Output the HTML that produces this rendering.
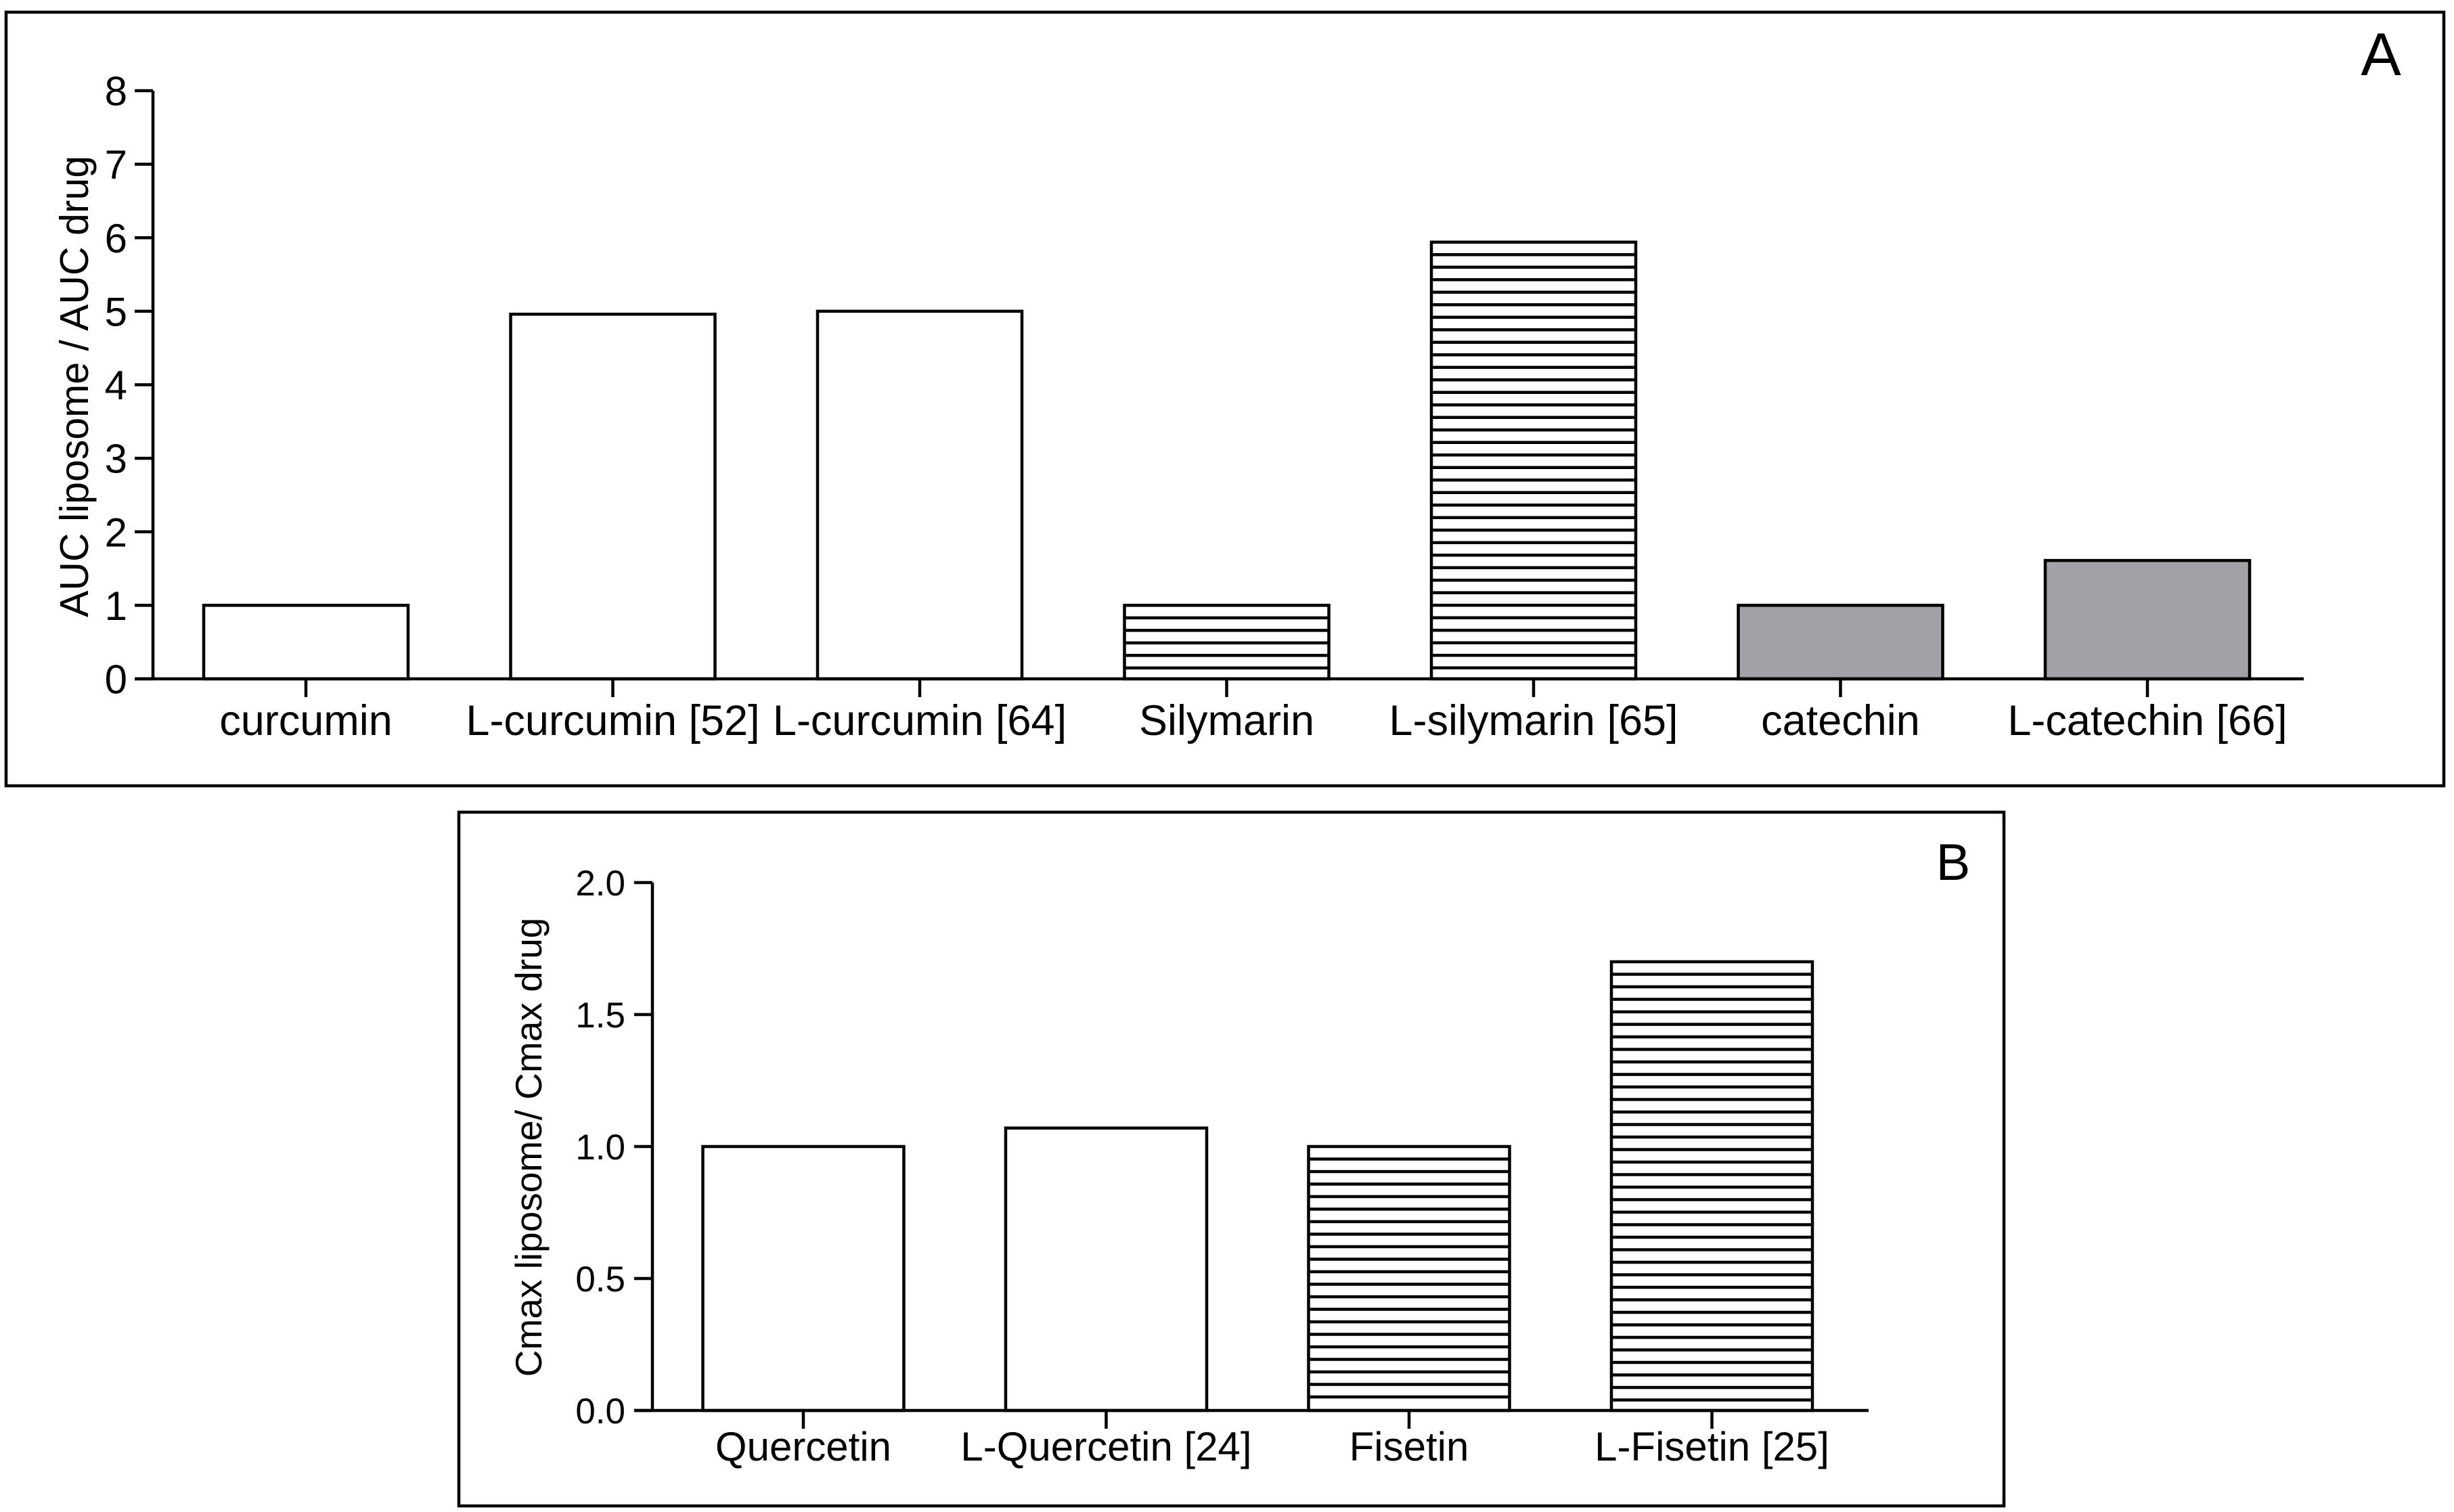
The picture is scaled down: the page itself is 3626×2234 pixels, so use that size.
<!DOCTYPE html>
<html><head><meta charset="utf-8"><style>
html,body{margin:0;padding:0;background:#fff;}
svg{display:block;font-family:"Liberation Sans",Arial,sans-serif;}
</style></head><body>
<svg id="fig" width="3626" height="2234" viewBox="0 0 3626 2234" xmlns="http://www.w3.org/2000/svg">
<rect x="9" y="18" width="3602" height="1143" fill="none" stroke="#000" stroke-width="4.5"/>
<rect x="678" y="1200" width="2283" height="1025" fill="none" stroke="#000" stroke-width="4.5"/>
<text x="3518" y="111" font-size="89" text-anchor="middle">A</text>
<text x="2886" y="1300" font-size="76" text-anchor="middle">B</text>
<text transform="translate(130,571) rotate(-90)" font-size="59" text-anchor="middle">AUC liposome / AUC drug</text>
<text transform="translate(800,1695) rotate(-90)" font-size="55" text-anchor="middle">Cmax liposome/ Cmax drug</text>
<g id="gA"></g>
<g id="gB"></g>
</svg>
<script>
const catsA = ["curcumin","L-curcumin [52]","L-curcumin [64]","Silymarin","L-silymarin [65]","catechin","L-catechin [66]"];
const valsA = [1.0, 4.96, 5.0, 1.0, 5.94, 1.0, 1.61];
const styleA = ["open","open","open","hatch","hatch","gray","gray"];
const ticksA = [0,1,2,3,4,5,6,7,8];
const tickLabelsA = ["0","1","2","3","4","5","6","7","8"];

const catsB = ["Quercetin","L-Quercetin [24]","Fisetin","L-Fisetin [25]"];
const valsB = [1.0, 1.07, 1.0, 1.70];
const styleB = ["open","open","hatch","hatch"];
const ticksB = [0,0.5,1.0,1.5,2.0];
const tickLabelsB = ["0.0","0.5","1.0","1.5","2.0"];

const NS = "http://www.w3.org/2000/svg";
function mk(tag, attrs, parent){
  const e = document.createElementNS(NS, tag);
  for (const k in attrs) e.setAttribute(k, attrs[k]);
  parent.appendChild(e);
  return e;
}
function drawPanel(g, cfg){
  const {cats, vals, styles, ticks, labels, x0, xEnd, y0, yTop, vmax, c0, step, bw, fs, tickFs, labelY, tickLabelX, key} = cfg;
  const ys = v => y0 - (v / vmax) * (y0 - yTop);
  const xs = i => c0 + i * step;
  const sw = 4.5;
  cats.forEach((c, i) => {
    const xc = xs(i), yt = ys(vals[i]);
    const grp = mk("g", {}, g);
    
    
    const fill = styles[i] === "gray" ? "#a2a1a6" : "#fff";
    mk("rect", {x: xc - bw/2, y: yt, width: bw, height: y0 - yt, fill: fill, stroke: "#000", "stroke-width": sw}, grp);
    if (styles[i] === "hatch") {
      for (let y = yt + 18.5; y < y0 - 6; y += 18.5) {
        mk("line", {x1: xc - bw/2, x2: xc + bw/2, y1: y, y2: y, stroke: "#000", "stroke-width": sw}, grp);
      }
    }
    const tk = mk("line", {x1: xc, x2: xc, y1: y0, y2: y0 + 27, stroke: "#000", "stroke-width": sw}, g);
    
    
    const t = mk("text", {x: xc, y: labelY, "font-size": fs, "text-anchor": "middle"}, g);
    t.textContent = c;
    
    
  });
  const ya = mk("line", {x1: x0, x2: x0, y1: yTop, y2: y0, stroke: "#000", "stroke-width": sw}, g);
  
  
  const xa = mk("line", {x1: x0 - 27, x2: xEnd, y1: y0, y2: y0, stroke: "#000", "stroke-width": sw}, g);
  
  
  ticks.forEach((v, i) => {
    const y = ys(v);
    const tl = mk("line", {x1: x0 - 27, x2: x0, y1: y, y2: y, stroke: "#000", "stroke-width": sw}, g);
    
    
    const t = mk("text", {x: tickLabelX, y: y + tickFs*0.36, "font-size": tickFs, "text-anchor": "end"}, g);
    t.textContent = labels[i];
    
    
  });
}
drawPanel(document.getElementById("gA"), {cats: catsA, vals: valsA, styles: styleA, ticks: ticksA, labels: tickLabelsA,
  x0: 226, xEnd: 3404, y0: 1003, yTop: 134, vmax: 8, c0: 452, step: 453.5, bw: 302, fs: 63, tickFs: 60, labelY: 1086, tickLabelX: 188, key: "a"});
drawPanel(document.getElementById("gB"), {cats: catsB, vals: valsB, styles: styleB, ticks: ticksB, labels: tickLabelsB,
  x0: 964, xEnd: 2761, y0: 2084, yTop: 1304, vmax: 2, c0: 1187, step: 447.5, bw: 297, fs: 60, tickFs: 53, labelY: 2158, tickLabelX: 924, key: "b"});
</script>
</body></html>
